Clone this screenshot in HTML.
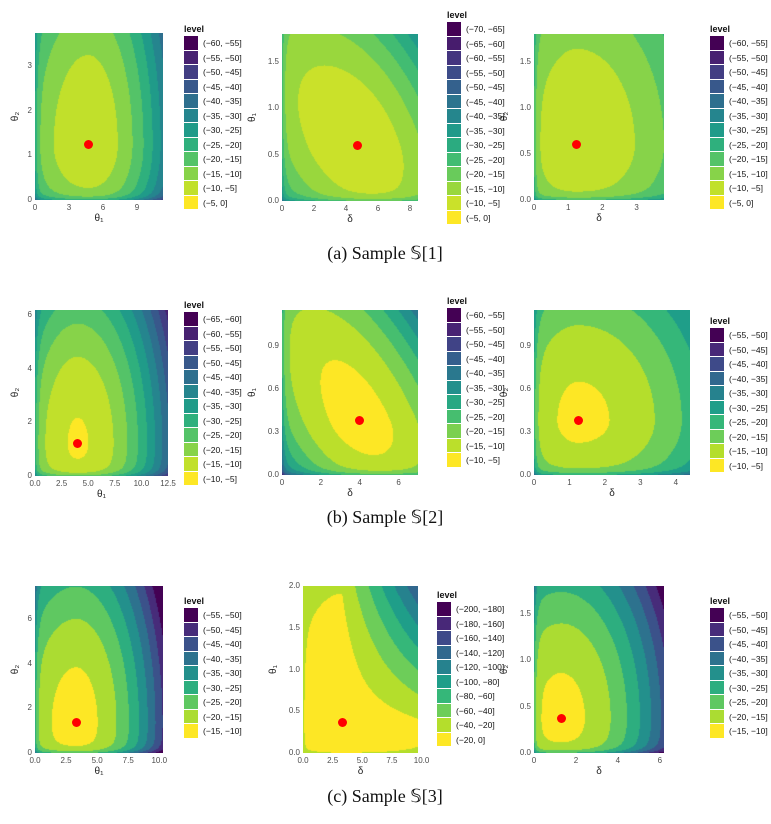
<!DOCTYPE html>
<html><head><meta charset="utf-8">
<style>
body{margin:0;background:#fff;width:771px;height:824px;position:relative;overflow:hidden;font-family:"Liberation Sans",sans-serif}
.abs{position:absolute}
.tick{position:absolute;font-size:8px;color:#4d4d4d;white-space:nowrap}
.ttl{position:absolute;font-size:10px;color:#222;white-space:nowrap}
.lg{position:absolute;font-size:8.5px;color:#111;white-space:nowrap}
.cap{position:absolute;font-family:"Liberation Serif",serif;font-size:18px;color:#111;white-space:nowrap;transform:translateX(-50%)}
</style></head><body>
<div class="cap" style="left:385px;top:243px">(a) Sample 𝕊[1]</div>
<div class="cap" style="left:385px;top:507px">(b) Sample 𝕊[2]</div>
<div class="cap" style="left:385px;top:786px">(c) Sample 𝕊[3]</div>
<script>
// panel data (axis ranges, peak estimates, level bins, ticks)
const panelNames=["a1","a2","a3","b1","b2","b3","c1","c2","c3"];
const xMaxes=[11.3,8.5,3.8,12.5,7,4.4,10.3,9.7,6.2];
const yMaxes=[3.75,1.8,1.8,6.2,1.15,1.15,7.5,2.0,1.8];
const peaksX=[4.7,4.7,1.25,4,4,1.25,3.3,3.3,1.3];
const peaksY=[1.25,0.6,0.6,1.2,0.38,0.38,1.35,0.36,0.37];
const levelLows=[-60,-70,-60,-65,-60,-55,-55,-200,-55];
const levelHighs=[0,0,0,-5,-5,-5,-10,0,-10];
const levelSteps=[5,5,5,5,5,5,5,20,5];
const xTicks=[[0,3,6,9],[0,2,4,6,8],[0,1,2,3],[0,2.5,5,7.5,10,12.5],[0,2,4,6],[0,1,2,3,4],[0,2.5,5,7.5,10],[0,2.5,5,7.5,10],[0,2,4,6]];
const xTickLabels=[["0","3","6","9"],["0","2","4","6","8"],["0","1","2","3"],["0.0","2.5","5.0","7.5","10.0","12.5"],["0","2","4","6"],["0","1","2","3","4"],["0.0","2.5","5.0","7.5","10.0"],["0.0","2.5","5.0","7.5","10.0"],["0","2","4","6"]];
const yTicks=[[0,1,2,3],[0,0.5,1,1.5],[0,0.5,1,1.5],[0,2,4,6],[0,0.3,0.6,0.9],[0,0.3,0.6,0.9],[0,2,4,6],[0,0.5,1,1.5,2],[0,0.5,1,1.5]];
const yTickLabels=[["0","1","2","3"],["0.0","0.5","1.0","1.5"],["0.0","0.5","1.0","1.5"],["0","2","4","6"],["0.0","0.3","0.6","0.9"],["0.0","0.3","0.6","0.9"],["0","2","4","6"],["0.0","0.5","1.0","1.5","2.0"],["0.0","0.5","1.0","1.5"]];
const xTitles=["θ₁","δ","δ","θ₁","δ","δ","θ₁","δ","δ"];
const yTitles=["θ₂","θ₁","θ₂","θ₂","θ₁","θ₂","θ₂","θ₁","θ₂"];
// surface shape coefficients
const peakValues=[-6,-6,-6,-9.5,-8,-9,-13,-8,-13.5];
const shapeA=[[75,55],[40,30],[20,40],[75,90],[40,40],[25,55],[70,55],[20,60],[45,40]];
const shapeB=[[14,55],[25,40],[12,40],[20,55],[25,55],[18,55],[18,40],[20,90],[20,55]];
const crossTerms=[0,30,0,0,40,0,0,200,0];

// layout
const L=[[35,33,128,167,184,24],[282,34,136,167,447,10],[534,34,130,166,710,24],
[35,310,133,166,184,300],[282,310,136,165,447,296],[534,310,156,165,710,316],
[35,586,128,167,184,596],[303,586,115,167,437,590],[534,586,130,167,710,596]];

const VIR=[[68,1,84],[72,40,120],[62,74,137],[49,104,142],[38,130,142],[31,158,137],[53,183,121],[109,205,89],[180,222,44],[253,231,37]];
function viridis(t){t=Math.max(0,Math.min(1,t));const p=t*9,i=Math.min(8,Math.floor(p)),f=p-i;const a=VIR[i],b=VIR[i+1];return [0,1,2].map(k=>Math.round(a[k]+(b[k]-a[k])*f));}
function fmt(v){return v<0?"−"+Math.abs(v):""+v;}
function el(tag,cls,txt){const e=document.createElement(tag);if(cls)e.className=cls;if(txt!=null)e.textContent=txt;document.body.appendChild(e);return e;}

for(let p=0;p<9;p++){
  const [px,py,pw,ph,lx,ly]=L[p];
  const xmax=xMaxes[p],ymax=yMaxes[p];
  const sx=v=>px+v/xmax*pw, sy=v=>py+ph-v/ymax*ph;
  const lo=levelLows[p],hi=levelHighs[p],st=levelSteps[p],n=Math.round((hi-lo)/st);
  const cols=[];for(let i=0;i<n;i++)cols.push(viridis(n==1?1:i/(n-1)));
  const cv=el("canvas","abs");
  
  
  cv.width=pw;cv.height=ph;cv.style.left=px+"px";cv.style.top=py+"px";
  const ctx=cv.getContext("2d"),img=ctx.createImageData(pw,ph);
  const [aR,aL]=shapeA[p],[bR,bL]=shapeB[p],c=crossTerms[p],off=peakValues[p];
  const pxn=peaksX[p]/xmax,pyn=peaksY[p]/ymax;
  for(let j=0;j<ph;j++)for(let i=0;i<pw;i++){
    const xn=(i+0.5)/pw,yn=1-(j+0.5)/ph,dx=xn-pxn,dy=yn-pyn;
    let f=off-(dx>0?aR:aL)*dx*dx-(dy>0?bR:bL)*dy*dy;
    if(p===7)f-=c*Math.max(dx,0)*Math.max(dy,0);else f-=c*dx*dy;
    f-=10*(Math.exp(-xn/0.02)+Math.exp(-yn/0.02));
    let k=Math.ceil((f-lo)/st)-1;k=Math.max(0,Math.min(n-1,k));
    const col=cols[k],o=(j*pw+i)*4;img.data[o]=col[0];img.data[o+1]=col[1];img.data[o+2]=col[2];img.data[o+3]=255;
  }
  ctx.putImageData(img,0,0);
  const d=el("div","abs");
  
  
  d.style.cssText=`left:${sx(peaksX[p])-4.5}px;top:${sy(peaksY[p])-4.5}px;width:9px;height:9px;border-radius:50%;background:#ff0000`;
  xTicks[p].forEach((v,i)=>{const t=el("div","tick",xTickLabels[p][i]);
    
    
    t.style.left=sx(v)+"px";t.style.top=(py+ph+3)+"px";t.style.transform="translateX(-50%)";});
  yTicks[p].forEach((v,i)=>{const t=el("div","tick",yTickLabels[p][i]);
    
    
    t.style.right=(771-px+3)+"px";t.style.top=(sy(v)-5)+"px";});
  const xt=el("div","ttl",xTitles[p]);
  
  
  xt.style.left=(px+pw/2)+"px";xt.style.top=(py+ph+13)+"px";xt.style.transform="translateX(-50%)";
  const yt=el("div","ttl",yTitles[p]);
  
  
  const ylabW=yTickLabels[p][0].length>1?20:10;
  yt.style.left=(px-ylabW-14)+"px";yt.style.top=(py+ph/2-6)+"px";yt.style.transform="rotate(-90deg)";
  const lt=el("div","lg","level");
  
  
  lt.style.left=lx+"px";lt.style.top=ly+"px";lt.style.fontWeight="bold";lt.style.fontSize="9px";
  for(let i=0;i<n;i++){
    const k=i,top=ly+12+i*14.5;
    const s=el("div","abs");
    
    
    const col=cols[k];
    s.style.cssText=`left:${lx}px;top:${top}px;width:14px;height:13.5px;background:rgb(${col})`;
    const lb=el("div","lg",`(${fmt(lo+k*st)}, ${fmt(lo+(k+1)*st)}]`);
    
    
    lb.style.left=(lx+19)+"px";lb.style.top=(top+2)+"px";
  }
}
</script>
</body></html>
